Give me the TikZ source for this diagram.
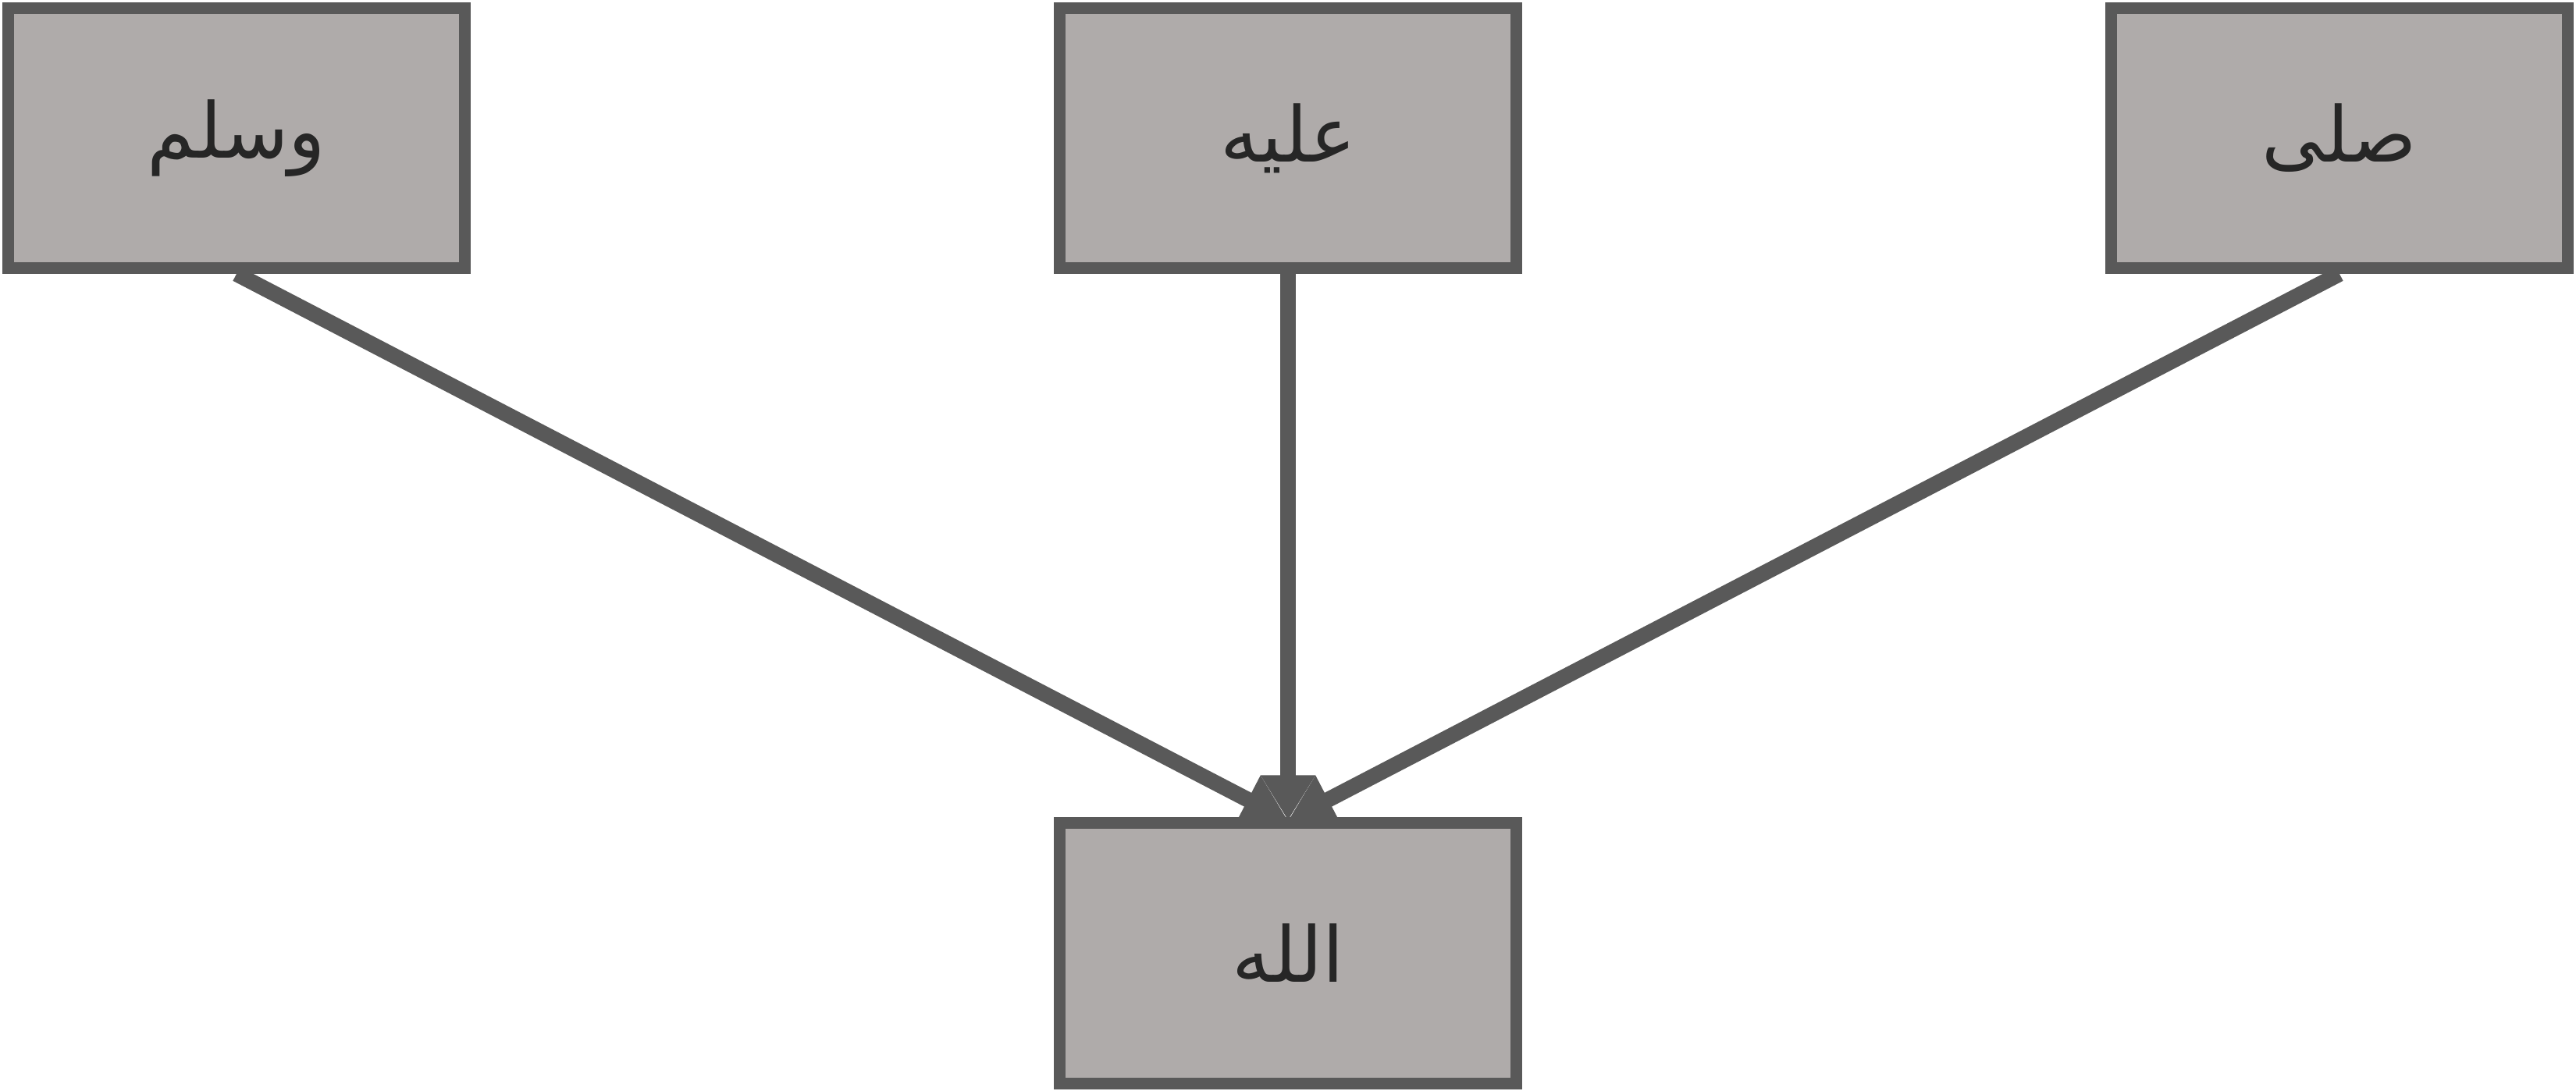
\documentclass[tikz,border=0pt]{standalone}
\usepackage{fontspec}
\newfontfamily\arabicfont[Script=Arabic]{DejaVu Sans}
\TeXXeTstate=1
\usetikzlibrary{arrows.meta}
\definecolor{boxfill}{RGB}{175,171,170}
\definecolor{boxline}{RGB}{89,89,89}
\definecolor{txt}{RGB}{38,38,38}
\tikzset{
  wordbox/.style={draw=boxline, fill=boxfill, line width=0.15cm, minimum width=5.85cm, minimum height=3.33cm, inner sep=0pt, text=txt, font=\arabicfont\fontsize{28}{34}\selectfont},
  link/.style={draw=boxline, line width=0.2cm, -{Triangle[width=0.66cm,length=0.58cm]}}
}
\begin{document}
\begin{tikzpicture}
\useasboundingbox (0,0) rectangle (33,13.97);
\node[wordbox] (w) at (3.03,12.20) {\beginR وسلم\endR};
\node[wordbox] (a) at (16.50,12.20) {\beginR عليه\endR};
\node[wordbox] (s) at (29.97,12.20) {\beginR صلى\endR};
\node[wordbox] (g) at (16.50,1.755) {\beginR الله\endR};
\coordinate (gt) at ([yshift=-0.04cm]g.north);
\draw[link] (w.south) -- (gt);
\draw[link] (s.south) -- (gt);
\draw[link] (a.south) -- (gt);
\end{tikzpicture}
\end{document}
